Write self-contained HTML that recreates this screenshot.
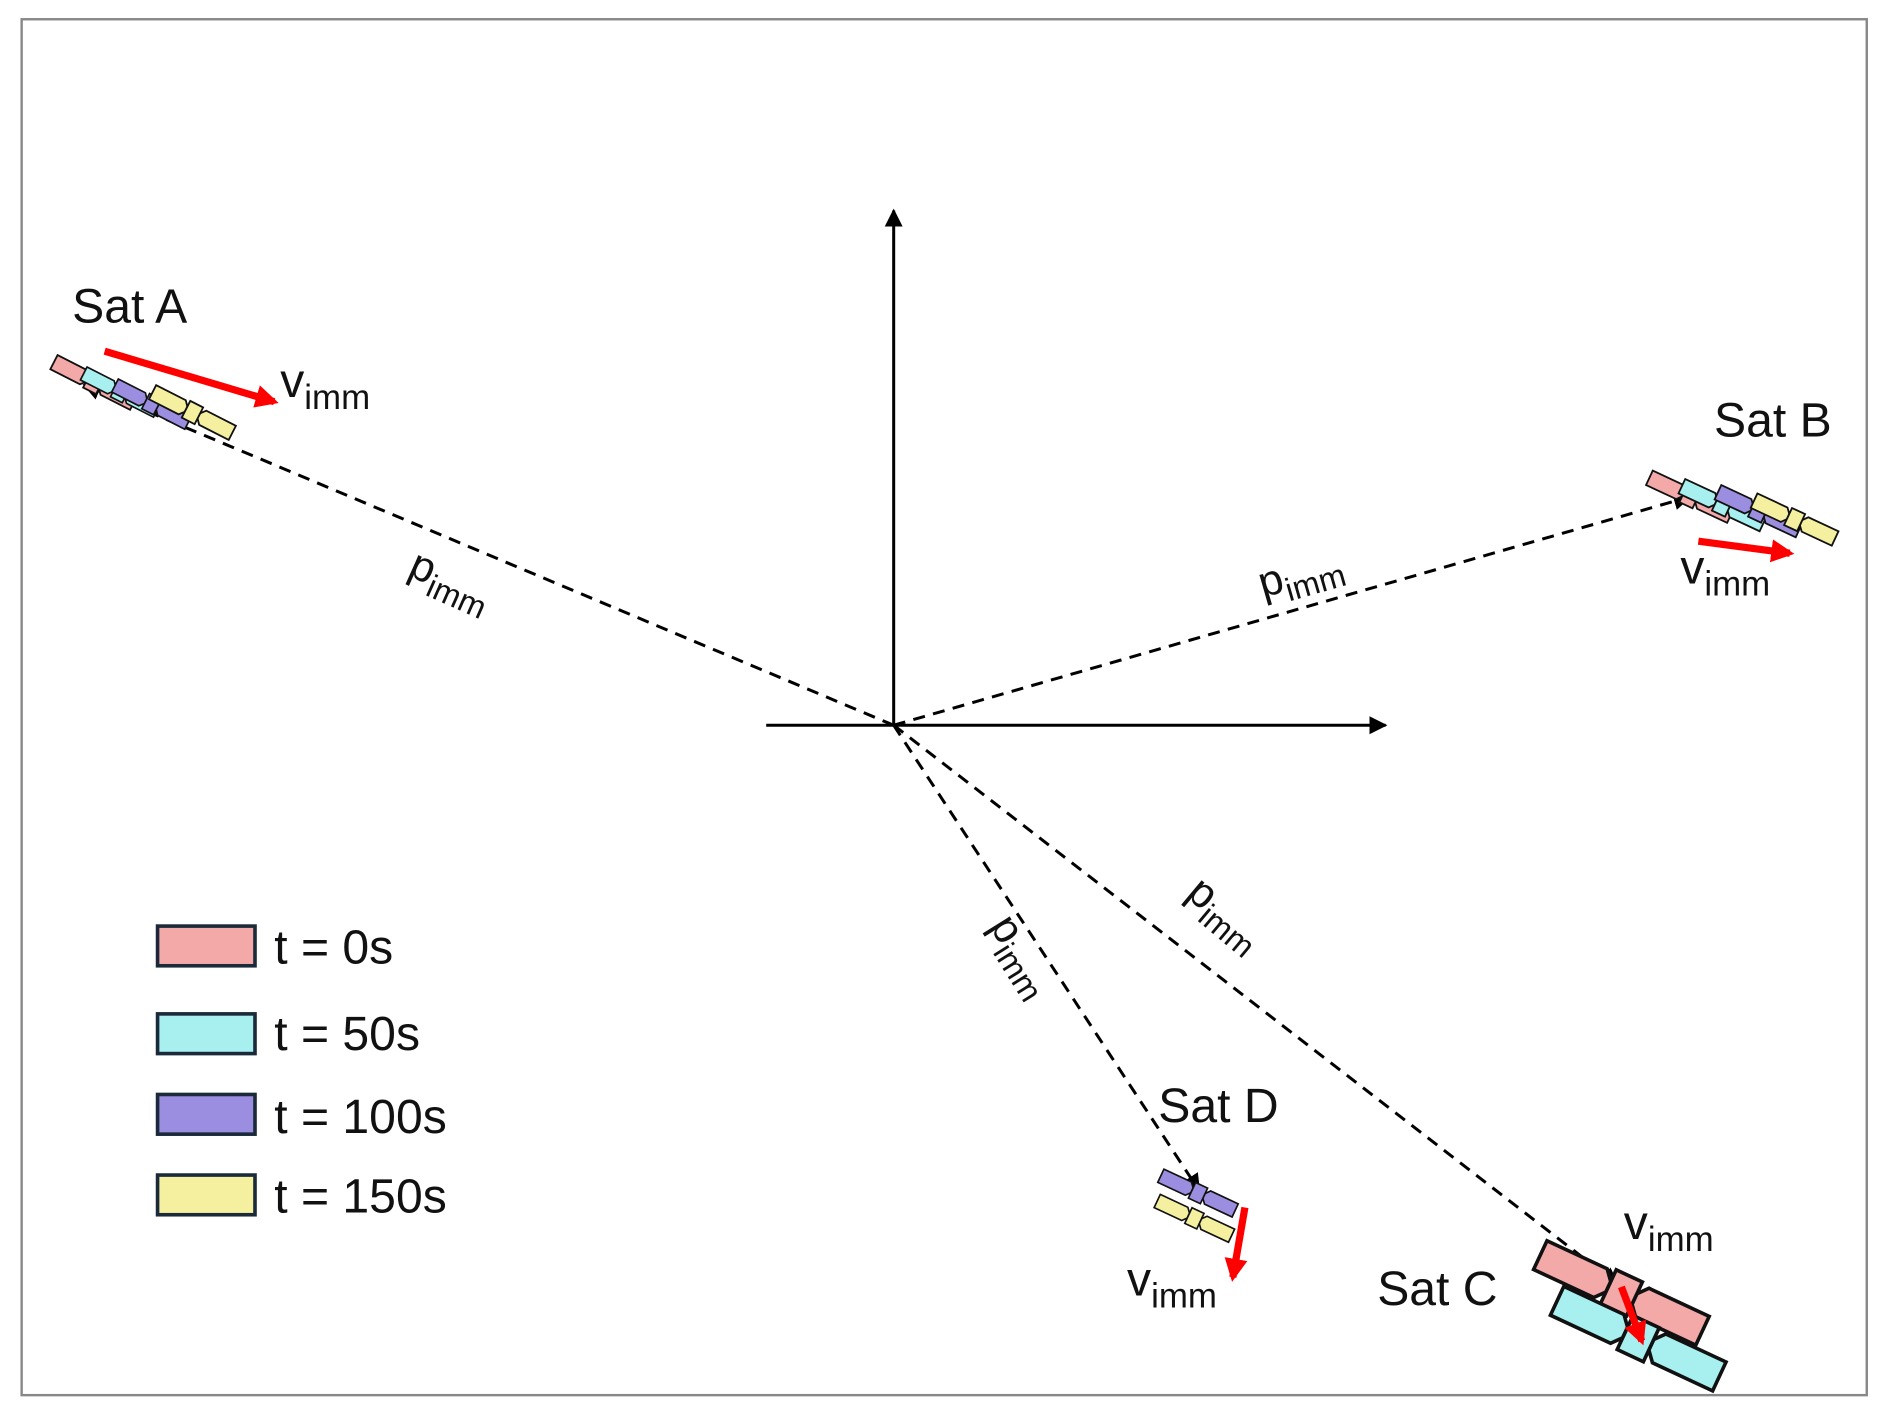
<!DOCTYPE html>
<html><head><meta charset="utf-8"><style>
html,body{margin:0;padding:0;background:#fff}
svg{display:block}
text{font-family:"Liberation Sans",sans-serif;fill:#111}
</style></head><body>
<svg width="1886" height="1418" viewBox="0 0 1568 1179" preserveAspectRatio="none" xmlns="http://www.w3.org/2000/svg">
<defs>
<marker id="ah" viewBox="0 0 10 10" refX="9" refY="5" markerWidth="6" markerHeight="6" orient="auto"><path d="M0,0 L10,5 L0,10 z" fill="#000"/></marker>
<marker id="rh" viewBox="0 0 10 10" refX="8" refY="5" markerWidth="3.2" markerHeight="3.2" orient="auto"><path d="M0,0 L10,5 L0,10 z" fill="#f00"/></marker>
<g id="sat" stroke="#111" stroke-width="2.5">
<path d="M-62,-11 L-16,-11 L-10,-4 L-10,4 L-16,11 L-62,11 Z"/>
<path d="M62,-11 L16,-11 L10,-4 L10,4 L16,11 L62,11 Z"/>
<rect x="-10" y="-13" width="20" height="26"/>
</g>
</defs>
<rect x="18" y="16" width="1534" height="1144" fill="#fff" stroke="#888" stroke-width="2"/>
<line x1="743" y1="603" x2="743" y2="175" stroke="#000" stroke-width="2.5" marker-end="url(#ah)"/>
<line x1="637" y1="603" x2="1152" y2="603" stroke="#000" stroke-width="2.5" marker-end="url(#ah)"/>
<g stroke="#000" stroke-width="2.5" stroke-dasharray="10 7" fill="none">
<line x1="743" y1="603" x2="70" y2="320" marker-end="url(#ah)"/>
<line x1="743" y1="603" x2="1405" y2="413" marker-end="url(#ah)"/>
<line x1="743" y1="603" x2="997" y2="990" marker-end="url(#ah)"/>
<line x1="743" y1="603" x2="1345" y2="1068" marker-end="url(#ah)"/>
</g>
<text transform="translate(338,478) rotate(24)" font-size="36">p<tspan font-size="27" dy="9">imm</tspan></text>
<text transform="translate(1050,497) rotate(-16)" font-size="36">p<tspan font-size="27" dy="9">imm</tspan></text>
<text transform="translate(822,770) rotate(58)" font-size="36">p<tspan font-size="27" dy="9">imm</tspan></text>
<text transform="translate(985,745) rotate(40)" font-size="36">p<tspan font-size="27" dy="9">imm</tspan></text>
<text x="60" y="268" font-size="40">Sat A</text>
<use href="#sat" transform="translate(78,318) rotate(27) scale(0.6)" fill="#f4a9a9"/>
<use href="#sat" transform="translate(100,326) rotate(27) scale(0.55)" fill="#a8f0f0"/>
<use href="#sat" transform="translate(126,336) rotate(27) scale(0.55)" fill="#9b8ee0"/>
<use href="#sat" transform="translate(160,343) rotate(27) scale(0.6)" fill="#f4f0a0"/>
<line x1="87" y1="292" x2="228" y2="334" stroke="#f00" stroke-width="6" marker-end="url(#rh)"/>
<text x="233" y="330" font-size="40">v<tspan font-size="29" dy="10">imm</tspan></text>
<text x="1425" y="363" font-size="40">Sat B</text>
<use href="#sat" transform="translate(1405,413) rotate(25) scale(0.6)" fill="#f4a9a9"/>
<use href="#sat" transform="translate(1432,420) rotate(25) scale(0.6)" fill="#a8f0f0"/>
<use href="#sat" transform="translate(1462,425) rotate(25) scale(0.6)" fill="#9b8ee0"/>
<use href="#sat" transform="translate(1492,432) rotate(25) scale(0.6)" fill="#f4f0a0"/>
<line x1="1412" y1="450" x2="1488" y2="460" stroke="#f00" stroke-width="6" marker-end="url(#rh)"/>
<text x="1397" y="485" font-size="40">v<tspan font-size="29" dy="10">imm</tspan></text>
<text x="963" y="933" font-size="40">Sat D</text>
<use href="#sat" transform="translate(996,992) rotate(25) scale(0.55)" fill="#9b8ee0"/>
<use href="#sat" transform="translate(993,1013) rotate(25) scale(0.55)" fill="#f4f0a0"/>
<line x1="1035" y1="1004" x2="1025" y2="1062" stroke="#f00" stroke-width="6" marker-end="url(#rh)"/>
<text x="937" y="1077" font-size="40">v<tspan font-size="29" dy="10">imm</tspan></text>
<text x="1145" y="1085" font-size="40">Sat C</text>
<use href="#sat" transform="translate(1348,1075) rotate(25) scale(1.2)" fill="#f4a9a9"/>
<use href="#sat" transform="translate(1362,1113) rotate(25) scale(1.2)" fill="#a8f0f0"/>
<line x1="1348" y1="1070" x2="1365" y2="1115" stroke="#f00" stroke-width="6" marker-end="url(#rh)"/>
<text x="1350" y="1030" font-size="40">v<tspan font-size="29" dy="10">imm</tspan></text>
<g stroke="#1a2a3a" stroke-width="3">
<rect x="131" y="770" width="81" height="33" fill="#f4a9a9"/>
<rect x="131" y="843" width="81" height="33" fill="#a8f0f0"/>
<rect x="131" y="910" width="81" height="33" fill="#9b8ee0"/>
<rect x="131" y="977" width="81" height="33" fill="#f4f0a0"/>
</g>
<g font-size="40">
<text x="228" y="801">t = 0s</text>
<text x="228" y="873">t = 50s</text>
<text x="228" y="942">t = 100s</text>
<text x="228" y="1008">t = 150s</text>
</g>
</svg>
</body></html>
